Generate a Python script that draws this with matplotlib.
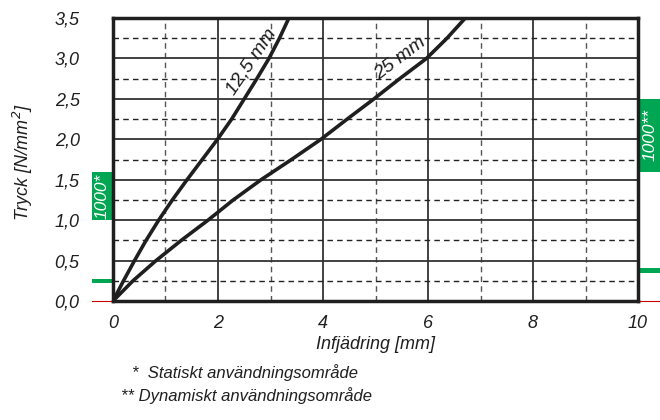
import matplotlib
matplotlib.use("Agg")
import matplotlib.pyplot as plt
from matplotlib.patches import Rectangle
import matplotlib.transforms as mtransforms

plt.rcParams['font.family'] = ['Liberation Sans Narrow', 'Liberation Sans', 'DejaVu Sans']
plt.rcParams['font.style'] = 'italic'

# curve data (x = Infjädring, y = Tryck)
p_levels = [0.0, 0.25, 0.5, 0.75, 1.0, 1.25, 1.5, 1.75, 2.0, 2.25, 2.5, 2.75, 3.0, 3.25, 3.5]
x_125 = [0.0, 0.20, 0.41, 0.63, 0.87, 1.13, 1.41, 1.70, 1.99, 2.26, 2.50, 2.74, 2.97, 3.17, 3.35]
x_25 = [0.0, 0.38, 0.82, 1.30, 1.81, 2.29, 2.82, 3.40, 3.96, 4.46, 4.97, 5.46, 5.97, 6.36, 6.71]

x_ticks = [0, 2, 4, 6, 8, 10]
y_ticks = [0.0, 0.5, 1.0, 1.5, 2.0, 2.5, 3.0, 3.5]
y_tick_labels = ["0,0", "0,5", "1,0", "1,5", "2,0", "2,5", "3,0", "3,5"]

# green ranges: (bottom, top) of the box, and marker level
static_box = (1.0, 1.6)
static_mark = 0.25
dynamic_box = (1.6, 2.5)
dynamic_mark = 0.375

green = "#00a651"
ink = "#1f1f1f"

fig = plt.figure(figsize=(6.6, 4.2), dpi=100)
ax = fig.add_axes([0.1712, 0.2833, 0.7955, 0.6737])

ax.set_xlim(0, 10)
ax.set_ylim(0, 3.5)

# grid
for xv in [1, 3, 5, 7, 9]:
    ax.axvline(xv, color="#555555", lw=1.0, ls=(0, (4, 3)), zorder=1)
for xv in [2, 4, 6, 8]:
    ax.axvline(xv, color="#333333", lw=1.3, zorder=1)
for yv in [0.25, 0.75, 1.25, 1.75, 2.25, 2.75, 3.25]:
    ax.axhline(yv, color="#222222", lw=1.0, ls=(0, (4, 3)), zorder=1)
for yv in [0.5, 1.0, 1.5, 2.0, 2.5, 3.0]:
    ax.axhline(yv, color="#333333", lw=1.3, zorder=1)

ax.plot(x_125, p_levels, color=ink, lw=2.6, zorder=3, solid_joinstyle="round")
ax.plot(x_25, p_levels, color=ink, lw=2.6, zorder=3, solid_joinstyle="round")

ax.text(2.63, 2.96, "12,5 mm", rotation=56, fontsize=14, ha="center", va="center",
        rotation_mode="anchor", color=ink)
ax.text(5.47, 3.0, "25 mm", rotation=37, fontsize=14, ha="center", va="center",
        rotation_mode="anchor", color=ink)

for s in ax.spines.values():
    s.set_linewidth(2.5)
    s.set_color(ink)
    s.set_zorder(4)

ax.set_xticks(x_ticks)
ax.set_xticklabels([str(v) for v in x_ticks])
ax.set_yticks(y_ticks)
ax.set_yticklabels(y_tick_labels)
ax.tick_params(length=0, labelsize=13, colors=ink)
ax.tick_params(axis="y", pad=24)
ax.tick_params(axis="x", pad=10)

ax.set_xlabel("Infjädring [mm]", fontsize=13, color=ink)
ax.xaxis.label.set_va("center")
ax.xaxis.set_label_coords(0.5, -0.155)
ax.set_ylabel("Tryck [N/mm$^2$]", fontsize=13, color=ink)
ax.yaxis.label.set_va("center")
ax.yaxis.set_label_coords(-0.171, 0.49)

# green boxes and markers outside the axes
trans = mtransforms.blended_transform_factory(ax.transAxes, ax.transData)
ax.add_patch(Rectangle((-0.04, static_box[0]), 0.04, static_box[1] - static_box[0],
                       transform=trans, color=green, clip_on=False, lw=0))
ax.add_patch(Rectangle((-0.04, static_mark - 0.025), 0.04, 0.05,
                       transform=trans, color=green, clip_on=False, lw=0))
ax.add_patch(Rectangle((1.004, dynamic_box[0]), 0.038, dynamic_box[1] - dynamic_box[0],
                       transform=trans, color=green, clip_on=False, lw=0))
ax.add_patch(Rectangle((1.004, dynamic_mark - 0.03), 0.038, 0.06,
                       transform=trans, color=green, clip_on=False, lw=0))
ax.plot([-0.04, 0], [0, 0], transform=trans, color="#cc0000", lw=0.8, clip_on=False)
ax.plot([1.0, 1.042], [0, 0], transform=trans, color="#cc0000", lw=0.8, clip_on=False)

ax.text(-0.02, sum(static_box) / 2, "1000*", transform=trans, rotation=90,
        color="white", fontsize=12.5, ha="center", va="center")
ax.text(1.023, sum(dynamic_box) / 2, "1000**", transform=trans, rotation=90,
        color="white", fontsize=12.5, ha="center", va="center")

fig.text(0.200, 1 - 373 / 420, "*  Statiskt användningsområde", fontsize=12, color=ink,
         va="center")
fig.text(0.183, 1 - 396 / 420, "** Dynamiskt användningsområde", fontsize=12, color=ink,
         va="center")

fig.savefig("out.png", dpi=100)
